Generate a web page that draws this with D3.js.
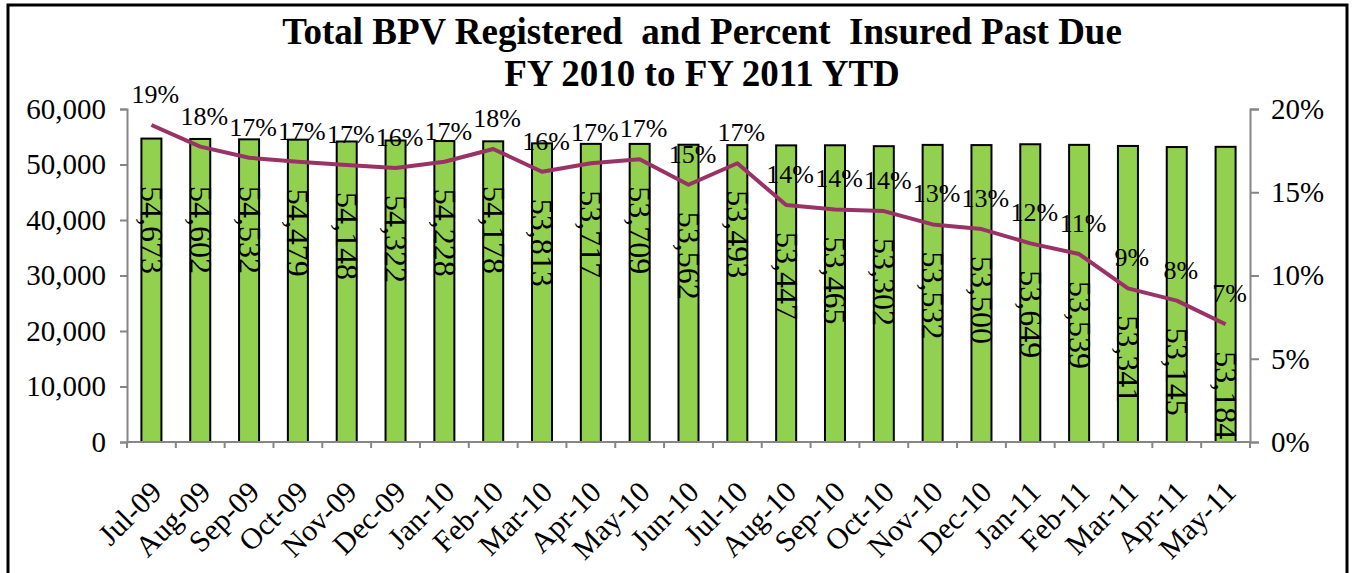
<!DOCTYPE html>
<html>
<head>
<meta charset="utf-8">
<script src="https://cdn.jsdelivr.net/npm/d3@7"></script>
<style>
  body { margin: 0; background: #fff; }
  text { font-family: "Liberation Serif", "Times New Roman", serif; fill: #000; }
</style>
</head>
<body>
<div id="chart"></div>
<script>
    // months of FY 2010 / FY 2011 YTD
    var months = ["Jul-09", "Aug-09", "Sep-09", "Oct-09", "Nov-09", "Dec-09", "Jan-10", "Feb-10",
        "Mar-10", "Apr-10", "May-10", "Jun-10", "Jul-10", "Aug-10", "Sep-10", "Oct-10", "Nov-10",
        "Dec-10", "Jan-11", "Feb-11", "Mar-11", "Apr-11", "May-11"];

    // total BPV registered (bars)
    var registered = [54673, 54602, 54532, 54479, 54148, 54322, 54228, 54178, 53813, 53717, 53709,
        53562, 53493, 53447, 53465, 53302, 53532, 53500, 53649, 53539, 53341, 53145, 53184];

    // percent insured past due (line)
    var pctPastDue = [0.1904, 0.1774, 0.1707, 0.1683, 0.1664, 0.1645, 0.1683, 0.1760, 0.1623, 0.1674,
        0.1698, 0.1545, 0.1674, 0.1423, 0.1397, 0.1387, 0.1307, 0.1279, 0.1193, 0.1129, 0.0923,
        0.0849, 0.0707];

    var leftTicks = [0, 10000, 20000, 30000, 40000, 50000, 60000];
    var rightTicks = [0, 0.05, 0.10, 0.15, 0.20];

    (function () {
        var width = 1353, height = 573;
        var plotLeft = 127, plotRight = 1250, plotTop = 109, plotBottom = 442;
        var axisColor = "#868686";

        var svg = d3.select("#chart").append("svg")
            .attr("width", width)
            .attr("height", height);

        // chart border
        svg.append("rect")
            .attr("x", 8).attr("y", 5)
            .attr("width", 1339).attr("height", 600)
            .attr("fill", "none")
            .attr("stroke", "#000")
            .attr("stroke-width", 3);

        // title (double spaces kept as in the original)
        var title = svg.append("text")
            .attr("text-anchor", "middle")
            .style("font-weight", "bold")
            .style("font-size", "37px")
            .style("white-space", "pre");
        title.append("tspan").attr("x", 702).attr("y", 44)
            .text("Total BPV Registered  and Percent  Insured Past Due");
        title.append("tspan").attr("x", 702).attr("y", 86)
            .text("FY 2010 to FY 2011 YTD");

        var x = d3.scaleBand()
            .domain(months)
            .range([plotLeft, plotRight])
            .paddingInner(0.59)
            .paddingOuter(0.295);

        var y = d3.scaleLinear().domain([0, 60000]).range([plotBottom, plotTop]);
        var yR = d3.scaleLinear().domain([0, 0.20]).range([plotBottom, plotTop]);

        function cx(d) { return x(d) + x.bandwidth() / 2; }

        // left axis
        var gL = svg.append("g")
            .attr("transform", "translate(" + plotLeft + ",0)")
            .call(d3.axisLeft(y).tickValues(leftTicks).tickFormat(d3.format(",")).tickSize(7).tickPadding(14));
        // right axis
        var gR = svg.append("g")
            .attr("transform", "translate(" + plotRight + ",0)")
            .call(d3.axisRight(yR).tickValues(rightTicks).tickFormat(d3.format(".0%")).tickSize(9).tickPadding(12));

        [gL, gR].forEach(function (g) {
            g.select(".domain").attr("stroke", axisColor).attr("stroke-width", 2);
            g.selectAll(".tick line").attr("stroke", axisColor).attr("stroke-width", 2);
            g.selectAll(".tick text").style("font-size", "29px").style("font-family", "Liberation Serif");
        });

        // bars
        svg.append("g").selectAll("rect")
            .data(months)
            .enter().append("rect")
            .attr("x", function (d) { return x(d); })
            .attr("y", function (d, i) { return y(registered[i]); })
            .attr("width", x.bandwidth())
            .attr("height", function (d, i) { return plotBottom - y(registered[i]); })
            .attr("fill", "#92D050")
            .attr("stroke", "#000")
            .attr("stroke-width", 2);

        // bottom axis: category labels through the band scale
        var gB = svg.append("g")
            .attr("transform", "translate(0," + plotBottom + ")")
            .call(d3.axisBottom(x).tickSize(0).tickPadding(0));
        gB.select(".domain").remove();
        gB.selectAll(".tick text")
            .style("font-size", "30px")
            .style("font-family", "Liberation Serif")
            .attr("text-anchor", "end")
            .attr("y", 0)
            .attr("dy", 0)
            .attr("transform", "translate(12,52) rotate(-45)");

        // axis line and boundary ticks
        svg.append("line")
            .attr("x1", plotLeft).attr("x2", plotRight)
            .attr("y1", plotBottom).attr("y2", plotBottom)
            .attr("stroke", axisColor).attr("stroke-width", 2);
        svg.append("g").selectAll("line")
            .data(d3.range(months.length + 1))
            .enter().append("line")
            .attr("x1", function (i) { return plotLeft + i * x.step(); })
            .attr("x2", function (i) { return plotLeft + i * x.step(); })
            .attr("y1", plotBottom).attr("y2", plotBottom + 6)
            .attr("stroke", axisColor).attr("stroke-width", 2);

        // line
        var line = d3.line()
            .x(function (d, i) { return cx(months[i]); })
            .y(function (d) { return yR(d); });

        svg.append("path")
            .datum(pctPastDue)
            .attr("d", line)
            .attr("fill", "none")
            .attr("stroke", "#993366")
            .attr("stroke-width", 4)
            .attr("stroke-linejoin", "round");

        // bar value labels, rotated, kept below the line
        svg.append("g").selectAll("text")
            .data(months)
            .enter().append("text")
            .attr("transform", function (d, i) {
                var t = Math.max(186, yR(pctPastDue[i]) + 27);
                return "translate(" + cx(d) + "," + t + ") rotate(90)";
            })
            .attr("dy", "0.33em")
            .style("font-size", "32px")
            .text(function (d, i) { return d3.format(",")(registered[i]); });

        // percent labels
        svg.append("g").selectAll("text")
            .data(pctPastDue)
            .enter().append("text")
            .attr("x", function (d, i) { return cx(months[i]) + 4; })
            .attr("y", function (d) { return yR(d) - 22; })
            .attr("text-anchor", "middle")
            .style("font-size", "26px")
            .text(function (d) { return d3.format(".0%")(d); });
    })();
</script>
</body>
</html>
